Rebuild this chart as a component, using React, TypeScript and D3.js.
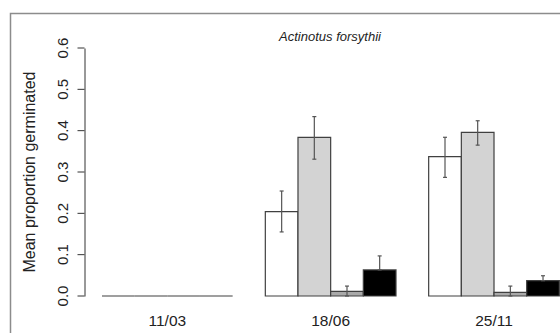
import * as d3 from 'd3';
import React, { useEffect, useRef } from 'react';

const groups = ['11/03', '18/06', '25/11'];
const fills = ['#ffffff', '#d3d3d3', '#a9a9a9', '#000000'];
// mean proportion germinated, one array per treatment (bar within group)
const whiteMeans = [0, 0.204, 0.337];
const lightMeans = [0, 0.384, 0.396];
const darkMeans = [0, 0.011, 0.009];
const blackMeans = [0, 0.063, 0.037];
// error bar ends (null = no error bar)
const whiteUpper = [null, 0.254, 0.384];
const whiteLower = [null, 0.155, 0.287];
const lightUpper = [null, 0.434, 0.424];
const lightLower = [null, 0.331, 0.365];
const darkUpper = [null, 0.024, 0.024];
const darkLower = [null, 0, 0];
const blackUpper = [null, 0.097, 0.049];
const blackLower = [null, 0.063, 0.037];
const yTicks = [0, 0.1, 0.2, 0.3, 0.4, 0.5, 0.6];

const width = 560;
const height = 333;
const font = '"Liberation Sans", Arial, sans-serif';

const means = [whiteMeans, lightMeans, darkMeans, blackMeans];
const uppers = [whiteUpper, lightUpper, darkUpper, blackUpper];
const lowers = [whiteLower, lightLower, darkLower, blackLower];

const App: React.FC = () => {
  const svgRef = useRef<SVGSVGElement>(null);
  useEffect(() => {
    if (!svgRef.current) return;
    const svg = d3.select(svgRef.current);
    svg.selectAll('*').remove();

    // x in bar-width units: one empty bar between groups (R beside=TRUE style)
    const xScale = d3.scaleLinear().domain([0, 16]).range([69.3, 69.3 + 16 * 32.67]);
    const yScale = d3.scaleLinear().domain([0, 0.6]).range([296, 48]);
    const barStart = (g: number, j: number) => 1 + g * 5 + j;

    // outer frame (top and left only visible)
    svg
      .append('path')
      .attr('d', `M10.5,${height} V13.5 H${width}`)
      .attr('fill', 'none')
      .attr('stroke', '#8c8c8c')
      .attr('stroke-width', 1.5);

    // y axis
    const yAxis = svg.append('g').attr('transform', 'translate(84.5,0)');
    yAxis
      .call(d3.axisLeft(yScale).tickValues(yTicks).tickSize(7).tickSizeOuter(0).tickFormat(d3.format('.1f')))
      .call((g) => g.selectAll('line').attr('stroke', '#333'))
      .call((g) => g.select('.domain').attr('stroke', '#333'));
    yAxis
      .selectAll<SVGTextElement, number>('text')
      .attr('x', 0)
      .attr('dy', null)
      .attr('transform', (d) => `translate(-22,${yScale(d)}) rotate(-90)`)
      .attr('y', 0)
      .attr('text-anchor', 'middle')
      .attr('dominant-baseline', 'central')
      .attr('font-family', font)
      .attr('font-size', 15)
      .attr('fill', '#222');
    yAxis.selectAll('.tick').attr('transform', null);
    yAxis
      .selectAll<SVGLineElement, number>('.tick line')
      .attr('transform', (d) => `translate(0,${yScale(d)})`);

    svg
      .append('text')
      .attr('transform', `translate(29,${(yScale(0) + yScale(0.6)) / 2}) rotate(-90)`)
      .attr('text-anchor', 'middle')
      .attr('dominant-baseline', 'central')
      .attr('font-family', font)
      .attr('font-size', 16)
      .attr('fill', '#222')
      .text('Mean proportion germinated');

    svg
      .append('text')
      .attr('x', 330)
      .attr('y', 41)
      .attr('text-anchor', 'middle')
      .attr('font-family', font)
      .attr('font-style', 'italic')
      .attr('font-size', 13)
      .attr('fill', '#222')
      .text('Actinotus forsythii');

    // bars
    groups.forEach((label, g) => {
      means.forEach((series, j) => {
        const x0 = xScale(barStart(g, j));
        const x1 = xScale(barStart(g, j) + 1);
        const y0 = yScale(0);
        const y1 = yScale(series[g]);
        svg
          .append('path')
          .attr('d', `M${x0},${y0} H${x1} V${y1} H${x0} Z`)
          .attr('fill', fills[j])
          .attr('stroke', '#404040')
          .attr('stroke-width', 1.2);
      });
      svg
        .append('text')
        .attr('x', xScale(barStart(g, 2)))
        .attr('y', 326)
        .attr('text-anchor', 'middle')
        .attr('font-family', font)
        .attr('font-size', 15.5)
        .attr('fill', '#222')
        .text(label);
    });

    // error bars
    groups.forEach((_, g) => {
      uppers.forEach((up, j) => {
        const hi = up[g];
        const lo = lowers[j][g];
        if (hi == null || lo == null) return;
        const cx = xScale(barStart(g, j) + 0.5);
        const eb = svg.append('g').attr('stroke', '#555').attr('stroke-width', 1.2);
        eb.append('line').attr('x1', cx).attr('x2', cx).attr('y1', yScale(hi)).attr('y2', yScale(lo));
        [hi, lo].forEach((v) =>
          eb
            .append('line')
            .attr('x1', cx - 2)
            .attr('x2', cx + 2)
            .attr('y1', yScale(v))
            .attr('y2', yScale(v))
        );
      });
    });
  }, []);
  return (
    <svg
      ref={svgRef}
      width={width}
      height={height}
      style={{ position: 'absolute', left: 0, top: 0, background: '#fff' }}
    />
  );
};

export default App;
